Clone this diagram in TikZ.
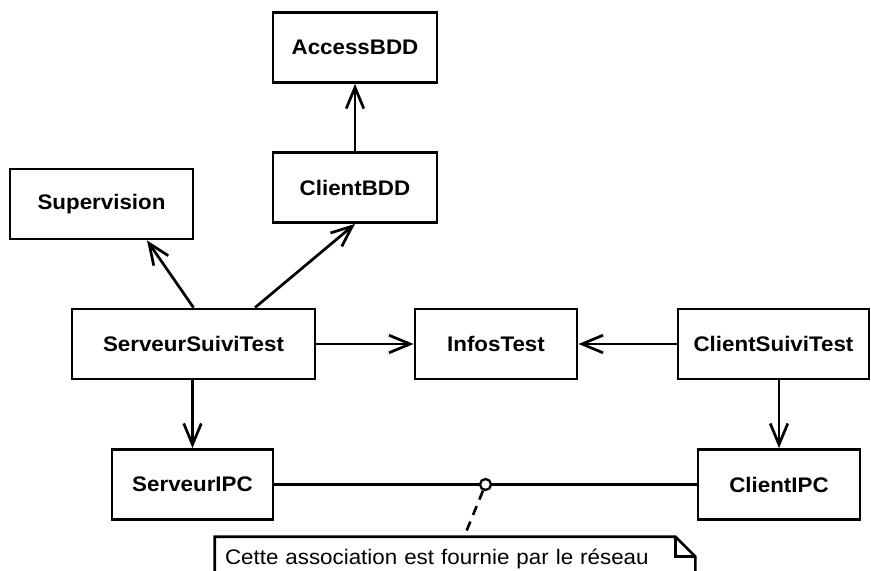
\documentclass[tikz,border=0pt]{standalone}
\usepackage{fontspec}
\setmainfont{Liberation Sans}[FakeStretch=1.06]
\usepackage{tikz}
\usetikzlibrary{calc,arrows.meta}
\definecolor{ink}{HTML}{000000}
\definecolor{paper}{HTML}{FFFFFF}
\tikzset{
  classbox/.style={draw=ink, line width=1.6pt, fill=paper, minimum height=1.40cm, inner sep=0pt,
    text=ink, font=\fontsize{12}{14}\selectfont\bfseries},
  navarrow/.style={draw=ink, line width=1.55pt, -{Straight Barb[length=12pt,width=10pt]}},
  link/.style={draw=ink, line width=1.55pt},
  dashedline/.style={draw=ink, line width=1.5pt, dash pattern=on 5.5pt off 4pt},
  ring/.style={circle, draw=ink, fill=paper, line width=1.3pt, minimum size=0.22cm, inner sep=0pt},
  notetext/.style={text=ink, font=\fontsize{12}{14}\selectfont, text width=9.2cm, align=left,
    inner sep=0.2cm, minimum height=0.88cm}
}
\begin{document}
\begin{tikzpicture}[scale=1.0]
  \fill[paper] (0,0) rectangle (17.42,11.40);
  \clip (0,0) rectangle (17.42,11.40);

  % classes
  \node[classbox, minimum width=3.28cm] (abdd) at (7.10,10.45) {AccessBDD};
  \node[classbox, minimum width=3.28cm] (cbdd) at (7.10,7.65) {ClientBDD};
  \node[classbox, minimum width=3.66cm] (sup) at (2.03,7.32) {Supervision};
  \node[classbox, minimum width=4.86cm] (sst) at (3.87,4.52) {ServeurSuiviTest};
  \node[classbox, minimum width=3.24cm] (infos) at (9.92,4.52) {InfosTest};
  \node[classbox, minimum width=3.82cm] (cst) at (15.47,4.52) {ClientSuiviTest};
  \node[classbox, minimum width=3.22cm] (sipc) at (3.85,1.71) {ServeurIPC};
  \node[classbox, minimum width=3.24cm] (cipc) at (15.58,1.71) {ClientIPC};

  % navigable associations
  \draw[navarrow] (cbdd) -- (abdd);
  \draw[navarrow] ([xshift=1.23cm]sst.north) -- (cbdd.south);
  \draw[navarrow] (sst.north) -- ([xshift=0.91cm]sup.south);
  \draw[navarrow] (sst) -- (infos);
  \draw[navarrow] (cst) -- (infos);
  \draw[navarrow] (sipc.north |- sst.south) -- (sipc.north);
  \draw[navarrow] (cipc.north |- cst.south) -- (cipc.north);

  % network link and its note
  \draw[link] (sipc) -- (cipc) node[ring, pos=0.5] (netdot) {};
  \node[notetext] (note) at (9.10,0.22) {Cette association est fournie par le réseau};
  \draw[link] (note.south west) -- (note.north west) -- ($(note.north east)+(-0.4,0)$)
    -- ($(note.north east)+(0,-0.4)$) -- (note.south east) -- cycle;
  \draw[link] ($(note.north east)+(-0.4,0)$) |- ($(note.north east)+(0,-0.4)$);
  \draw[dashedline] (netdot) -- (note);
\end{tikzpicture}
\end{document}
